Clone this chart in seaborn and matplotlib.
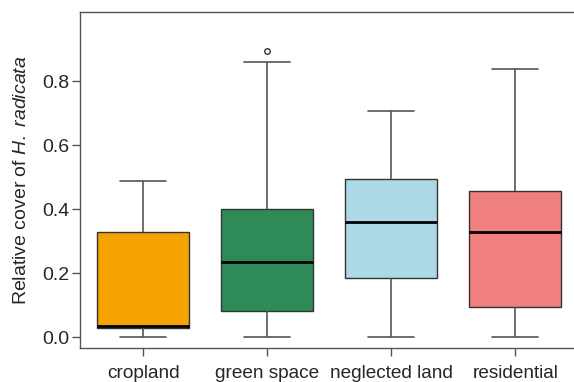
import numpy as np
import pandas as pd
import matplotlib
matplotlib.use("Agg")
import matplotlib.pyplot as plt
import seaborn as sns

# Five-number summaries of relative cover per habitat type
habitats = ["cropland", "green space", "neglected land", "residential"]
lower_whisker = [0.000, 0.000, 0.000, 0.000]
q1 = [0.028, 0.082, 0.184, 0.095]
median = [0.035, 0.234, 0.361, 0.328]
q3 = [0.328, 0.401, 0.494, 0.458]
upper_whisker = [0.489, 0.859, 0.706, 0.837]
outliers = [[], [0.895], [], []]
colors = ["#F5A300", "#2E8B57", "#ADD8E6", "#F08080"]

# Build per-habitat samples whose quartiles reproduce the summaries
rows = []
for i, h in enumerate(habitats):
    vals = [lower_whisker[i], q1[i], q1[i], median[i], median[i],
            q3[i], q3[i], upper_whisker[i]] + outliers[i]
    rows += [(h, v) for v in vals]
df = pd.DataFrame(rows, columns=["habitat", "cover"])

sns.set_style("ticks")
plt.rcParams["font.family"] = ["Liberation Sans", "DejaVu Sans"]
plt.rcParams["mathtext.fontset"] = "custom"
plt.rcParams["mathtext.rm"] = "Liberation Sans"
plt.rcParams["mathtext.it"] = "Liberation Sans:italic"

fig = plt.figure(figsize=(5.74, 3.82), dpi=100)
ax = fig.add_axes([80 / 574, 0.0882, 498.5 / 574, 0.8796])

sns.boxplot(
    data=df, x="habitat", y="cover", hue="habitat", order=habitats,
    hue_order=habitats, palette=colors, saturation=1, width=0.74,
    legend=False, linecolor="#333333", linewidth=1.0, ax=ax,
    whiskerprops=dict(color="#555555", linewidth=1.2),
    capprops=dict(color="#555555", linewidth=1.2),
    medianprops=dict(color="black", linewidth=2.0),
    flierprops=dict(marker="o", markersize=4, markerfacecolor="none",
                    markeredgecolor="#333333", markeredgewidth=1.0),
)

ax.set_xlim(-0.51, 3.51)
ax.set_ylim(-0.0347, 1.0153)
ax.set_yticks([0.0, 0.2, 0.4, 0.6, 0.8])
ax.set_yticklabels(["0.0", "0.2", "0.4", "0.6", "0.8"])
ax.set_xlabel("")
ax.set_ylabel(r"Relative cover of $\it{H.}$ $\it{radicata}$", fontsize=14,
              labelpad=9)
ax.tick_params(axis="both", labelsize=13.7, color="#555555", width=1.0,
               length=6)
ax.tick_params(axis="y", pad=1.5, labelsize=14)
ax.tick_params(axis="x", pad=6)
for s in ax.spines.values():
    s.set_visible(True)
    s.set_color("#555555")
    s.set_linewidth(1.0)

fig.savefig("out.png", dpi=100, facecolor="white")
